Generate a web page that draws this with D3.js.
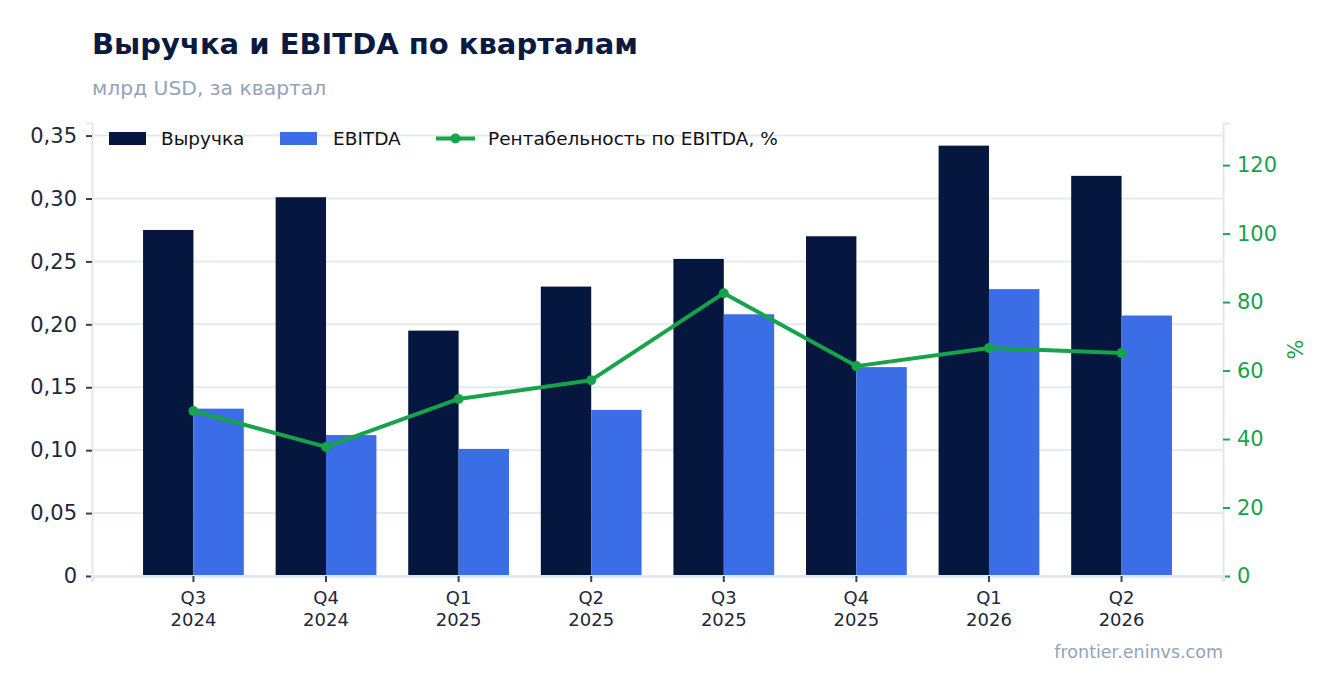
<!DOCTYPE html>
<html>
<head>
<meta charset="utf-8">
<script src="https://cdn.jsdelivr.net/npm/d3@7"></script>
<style>
  body { margin: 0; background: #fff; font-family: "DejaVu Sans", sans-serif; }
</style>
</head>
<body>
<svg id="chart" width="1336" height="693"></svg>
<script>
// data
const quarters = ["Q3", "Q4", "Q1", "Q2", "Q3", "Q4", "Q1", "Q2"];
const years = ["2024", "2024", "2025", "2025", "2025", "2025", "2026", "2026"];
const revenue = [0.275, 0.301, 0.195, 0.230, 0.252, 0.270, 0.342, 0.318];
const ebitda = [0.133, 0.112, 0.101, 0.132, 0.208, 0.166, 0.228, 0.207];
const margin = [48.2, 37.7, 51.7, 57.2, 82.6, 61.3, 66.6, 65.1];
const leftTicks = [0, 0.05, 0.10, 0.15, 0.20, 0.25, 0.30, 0.35];
const rightTicks = [0, 20, 40, 60, 80, 100, 120];

const width = 1336, height = 693;
const m = { top: 123, right: 113, bottom: 117, left: 92 };
const navy = "#06173f", blue = "#3b6de6", green = "#16a34a";

const svg = d3.select("#chart");
const keys = quarters.map((q, i) => q + " " + years[i]);

const x = d3.scaleBand()
  .domain(keys)
  .range([m.left, width - m.right])
  .paddingInner(0.24)
  .paddingOuter(0.385);
const xs = d3.scaleBand().domain(["rev", "ebitda"]).range([0, x.bandwidth()]);

const y = d3.scaleLinear().domain([0, 0.36]).range([height - m.bottom, m.top]);
const y2 = d3.scaleLinear().domain([0, 132.3]).range([height - m.bottom, m.top]);

const fmt = d => d === 0 ? "0" : d3.format(".2f")(d).replace(".", ",");

// grid
svg.append("g")
  .selectAll("line")
  .data(leftTicks.slice(1))
  .join("line")
  .attr("x1", m.left).attr("x2", width - m.right)
  .attr("y1", d => y(d)).attr("y2", d => y(d))
  .attr("stroke", "#e5e9f0").attr("stroke-width", 2);

// bars
const groups = svg.append("g")
  .selectAll("g")
  .data(keys)
  .join("g")
  .attr("transform", d => `translate(${x(d)},0)`);
groups.append("rect")
  .attr("x", xs("rev")).attr("width", xs.bandwidth())
  .attr("y", (d, i) => y(revenue[i]))
  .attr("height", (d, i) => y(0) - y(revenue[i]))
  .attr("fill", navy);
groups.append("rect")
  .attr("x", xs("ebitda")).attr("width", xs.bandwidth())
  .attr("y", (d, i) => y(ebitda[i]))
  .attr("height", (d, i) => y(0) - y(ebitda[i]))
  .attr("fill", blue);

// left axis
svg.append("g")
  .attr("transform", `translate(${m.left},0)`)
  .call(d3.axisLeft(y).tickValues(leftTicks).tickFormat(fmt).tickSize(6).tickPadding(9))
  .call(g => g.select(".domain").attr("stroke", "#e2e8f0").attr("stroke-width", 2))
  .call(g => g.selectAll(".tick line").attr("stroke", "#374151").attr("stroke-width", 2))
  .call(g => g.selectAll(".tick text")
    .attr("font-family", "DejaVu Sans").attr("font-size", 21).attr("fill", "#1e293b"));

// right axis
svg.append("g")
  .attr("transform", `translate(${width - m.right},0)`)
  .call(d3.axisRight(y2).tickValues(rightTicks).tickSize(7).tickPadding(7))
  .call(g => g.select(".domain").attr("stroke", "#e2e8f0").attr("stroke-width", 2))
  .call(g => g.selectAll(".tick line").attr("stroke", "#22a855").attr("stroke-width", 2))
  .call(g => g.selectAll(".tick text")
    .attr("font-family", "DejaVu Sans").attr("font-size", 21).attr("fill", green));

svg.append("text")
  .attr("transform", `translate(1303,${(m.top + height - m.bottom) / 2}) rotate(-90)`)
  .attr("text-anchor", "middle")
  .attr("font-size", 21).attr("fill", green)
  .text("%");

// bottom axis
const xAxis = svg.append("g")
  .attr("transform", `translate(0,${height - m.bottom})`)
  .call(d3.axisBottom(x).tickSize(6).tickPadding(8))
  .call(g => g.select(".domain").attr("stroke", "#e2e8f0").attr("stroke-width", 3))
  .call(g => g.selectAll(".tick line").attr("stroke", "#374151").attr("stroke-width", 2));
xAxis.selectAll(".tick text").remove();
xAxis.selectAll(".tick").each(function(d, i) {
  const t = d3.select(this).append("text")
    .attr("fill", "#1e293b").attr("font-family", "DejaVu Sans").attr("font-size", 18)
    .attr("text-anchor", "middle");
  t.append("tspan").attr("x", 0).attr("y", 28).text(quarters[i]);
  t.append("tspan").attr("x", 0).attr("y", 50).text(years[i]);
});

// margin line
const line = d3.line()
  .x((d, i) => x(keys[i]) + x.bandwidth() / 2)
  .y(d => y2(d));
svg.append("path")
  .datum(margin)
  .attr("fill", "none")
  .attr("stroke", green)
  .attr("stroke-width", 4)
  .attr("stroke-linejoin", "round")
  .attr("d", line);
svg.append("g")
  .selectAll("circle")
  .data(margin)
  .join("circle")
  .attr("cx", (d, i) => x(keys[i]) + x.bandwidth() / 2)
  .attr("cy", d => y2(d))
  .attr("r", 5)
  .attr("fill", green);

// legend
const legend = svg.append("g").attr("font-family", "DejaVu Sans").attr("font-size", 18.5).attr("fill", "#111");
legend.append("rect").attr("x", 109).attr("y", 132).attr("width", 37).attr("height", 13).attr("fill", navy);
legend.append("text").attr("x", 161).attr("y", 145).text("Выручка");
legend.append("rect").attr("x", 280).attr("y", 132).attr("width", 37).attr("height", 13).attr("fill", blue);
legend.append("text").attr("x", 333).attr("y", 145).text("EBITDA");
legend.append("line").attr("x1", 436).attr("x2", 475).attr("y1", 138.5).attr("y2", 138.5)
  .attr("stroke", green).attr("stroke-width", 4);
legend.append("circle").attr("cx", 455.5).attr("cy", 138.5).attr("r", 5).attr("fill", green);
legend.append("text").attr("x", 488).attr("y", 145).text("Рентабельность по EBITDA, %");

// titles
svg.append("text")
  .attr("x", 92).attr("y", 54)
  .attr("font-family", "DejaVu Sans").attr("font-weight", "bold").attr("font-size", 29)
  .attr("fill", "#0b1a40")
  .text("Выручка и EBITDA по кварталам");
svg.append("text")
  .attr("x", 92).attr("y", 95)
  .attr("font-family", "DejaVu Sans").attr("font-size", 20.3)
  .attr("fill", "#94a3b8")
  .text("млрд USD, за квартал");
svg.append("text")
  .attr("x", width - m.right).attr("y", 658)
  .attr("text-anchor", "end")
  .attr("font-family", "DejaVu Sans").attr("font-size", 17.5)
  .attr("fill", "#94a3b8")
  .text("frontier.eninvs.com");
</script>
</body>
</html>
